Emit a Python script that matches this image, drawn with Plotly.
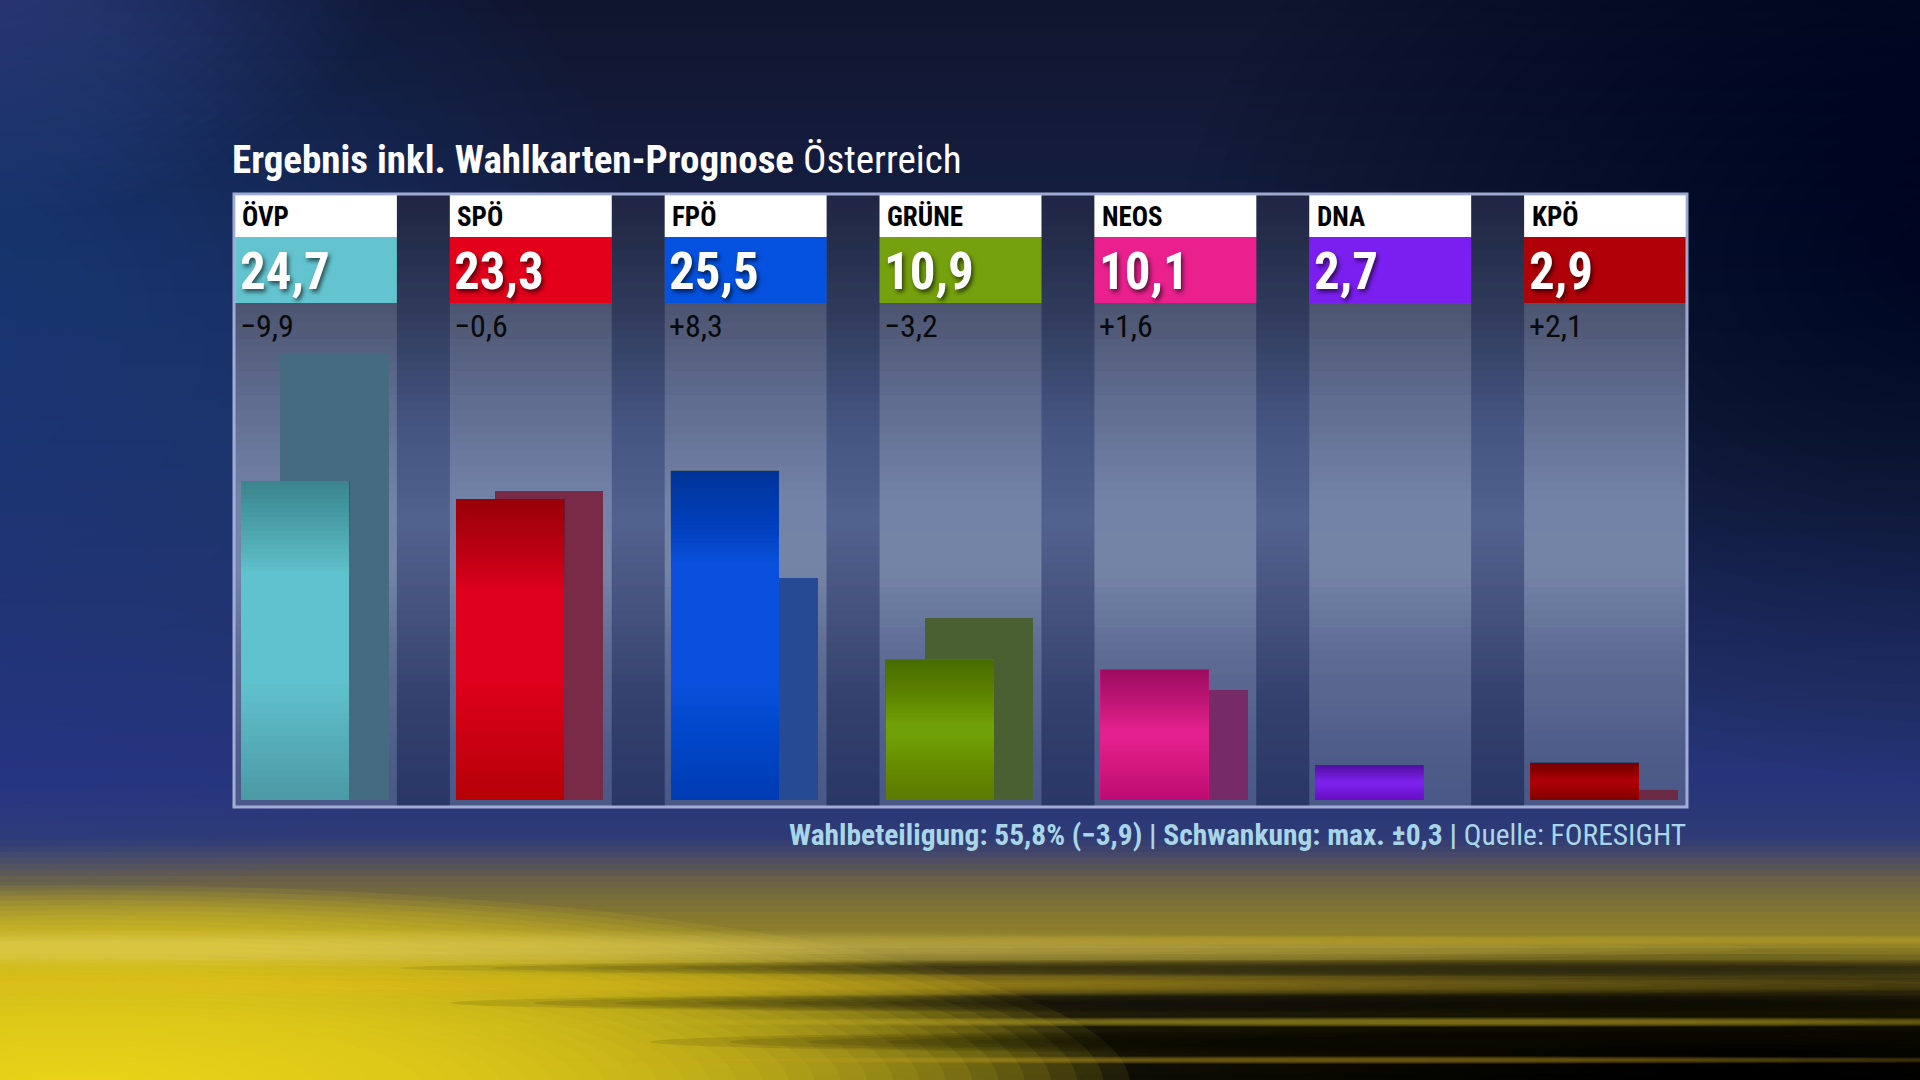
import plotly.graph_objects as go

# --- data -------------------------------------------------------------
parties = ["ÖVP", "SPÖ", "FPÖ", "GRÜNE", "NEOS", "DNA", "KPÖ"]
results = [24.7, 23.3, 25.5, 10.9, 10.1, 2.7, 2.9]
previous = [34.6, 23.9, 17.2, 14.1, 8.5, None, 0.8]
changes = [-9.9, -0.6, 8.3, -3.2, 1.6, None, 2.1]
party_colors = ["#60c2ce", "#de001c", "#0a50dc", "#70a008", "#e4208e", "#7c22ec", "#ac0008"]
header_colors = ["#63c4d0", "#e2001a", "#0552e0", "#74a10d", "#e9208d", "#7b1ff0", "#b00008"]
prev_colors = ["#456b80", "#782a47", "#274a94", "#4a6033", "#772b66", "#555555", "#6c2b45"]

title_bold = "Ergebnis inkl. Wahlkarten-Prognose"
title_light = "Österreich"
footer_bold = "Wahlbeteiligung: 55,8% (−3,9) | Schwankung: max. ±0,3 |"
footer_light = "Quelle: FORESIGHT"

FONT = "Roboto Condensed, DejaVu Sans Condensed, Liberation Sans Narrow, sans-serif"
W, H = 1920, 1080
HALF = 0.3767  # half column width in category units
BAR_W = 0.505
CUR_OFF, PREV_OFF = -0.349, -0.167


def fx(px):
    return px / W


def fy(py):
    return 1 - py / H


def hex_rgb(h):
    h = h.lstrip("#")
    return tuple(int(h[i:i + 2], 16) for i in (0, 2, 4))


def grad(stops, y):
    for (y0, c0), (y1, c1) in zip(stops, stops[1:]):
        if y0 <= y <= y1:
            t = (y - y0) / (y1 - y0)
            a, b = hex_rgb(c0), hex_rgb(c1)
            return "rgb(%d,%d,%d)" % tuple(round(a[k] + (b[k] - a[k]) * t) for k in range(3))
    return stops[-1][1]


def fmt(v):
    s = f"{abs(v):.1f}".replace(".", ",")
    return ("+" if v > 0 else "−") + s


shapes = []

# background: vertical gradient
bg_stops = [(0, "#10152e"), (200, "#151d40"), (500, "#1d2858"), (780, "#26357a"),
            (838, "#2e3b76"), (855, "#46486a"), (880, "#6a6048"), (915, "#857830"),
            (945, "#938428"), (975, "#5a5018"), (1010, "#2e2a10"), (1080, "#161610")]
for y in range(0, H, 6):
    shapes.append(dict(type="rect", xref="paper", yref="paper", x0=0, x1=1,
                       y0=fy(y + 7), y1=fy(y), fillcolor=grad(bg_stops, y + 3),
                       line_width=0, layer="below"))


def glow(cx, cy, rx, ry, rgb, alpha, n=28, inner=0.0):
    for k in range(n):
        r = 1 - (1 - inner) * k / n
        shapes.append(dict(type="circle", xref="paper", yref="paper",
                           x0=fx(cx - rx * r), x1=fx(cx + rx * r),
                           y0=fy(cy + ry * r), y1=fy(cy - ry * r),
                           fillcolor=f"rgba({rgb},{alpha})", line_width=0, layer="below"))


glow(-120, 330, 760, 620, "75,98,190", 0.018)
glow(-40, -40, 420, 260, "90,110,200", 0.02)
glow(1980, 260, 800, 520, "4,6,18", 0.02)
glow(1750, 1060, 1000, 110, "8,8,4", 0.035)
glow(80, 1085, 1050, 200, "248,222,40", 0.085, n=40)
glow(250, 948, 1500, 18, "238,220,110", 0.05, n=10, inner=0.3)
glow(500, 985, 1600, 12, "235,205,45", 0.05, n=10, inner=0.3)
# dark and light streaks (soft elongated ellipses)
glow(1450, 968, 1050, 8, "25,22,8", 0.09, n=8, inner=0.3)
glow(1400, 1003, 950, 10, "14,13,6", 0.1, n=8, inner=0.3)
glow(1450, 1022, 900, 5, "215,185,40", 0.09, n=8, inner=0.3)
glow(1550, 1042, 900, 12, "10,10,4", 0.1, n=8, inner=0.3)
glow(1350, 1060, 800, 4, "200,170,35", 0.08, n=8, inner=0.3)
glow(1600, 940, 900, 5, "200,175,45", 0.07, n=8, inner=0.3)

# panel background (gaps)
PT, PB, PL, PR = 195, 806, 235, 1686
gap_stops = [(195, "#1f2542"), (300, "#2e3858"), (420, "#445480"), (520, "#52628e"),
             (600, "#46547f"), (700, "#34416e"), (806, "#293767")]
col_stops = [(195, "#3e4660"), (300, "#4b536e"), (400, "#606c90"), (500, "#7283a7"),
             (570, "#7484a7"), (650, "#5f6d94"), (750, "#4f5d8a"), (806, "#4a5888")]
for y in range(PT, PB, 8):
    y2 = min(y + 9, PB)
    shapes.append(dict(type="rect", xref="paper", yref="paper", x0=fx(PL), x1=fx(PR),
                       y0=fy(y2), y1=fy(y), fillcolor=grad(gap_stops, y + 4),
                       line_width=0, layer="below"))
    sub = " ".join(
        f"M {i - HALF},{fy(y2)} L {i + HALF},{fy(y2)} L {i + HALF},{fy(y)} L {i - HALF},{fy(y)} Z"
        for i in range(len(parties)))
    shapes.append(dict(type="path", xref="x", yref="paper", path=sub,
                       fillcolor=grad(col_stops, y + 4), line_width=0, layer="below"))

# header cells
for i, c in enumerate(header_colors):
    shapes.append(dict(type="rect", xref="x", yref="paper", x0=i - HALF, x1=i + HALF,
                       y0=fy(237), y1=fy(PT), fillcolor="white", line_width=0, layer="below"))
    shapes.append(dict(type="rect", xref="x", yref="paper", x0=i - HALF, x1=i + HALF,
                       y0=fy(303), y1=fy(237), fillcolor=c, line_width=0, layer="below"))

# soft shading on the current bars (darker top and bottom), stacked translucent layers
for i, v in enumerate(results):
    top_depth = min(7.0, 0.45 * v)
    bot_depth = min(9.0, 0.45 * v)
    for k in range(1, 21):
        shapes.append(dict(type="rect", xref="x", yref="y",
                           x0=i + CUR_OFF, x1=i + CUR_OFF + BAR_W,
                           y0=v - top_depth * k / 20, y1=v,
                           fillcolor="rgba(0,0,0,0.014)", line_width=0, layer="above"))
        shapes.append(dict(type="rect", xref="x", yref="y",
                           x0=i + CUR_OFF, x1=i + CUR_OFF + BAR_W,
                           y0=0, y1=bot_depth * k / 20,
                           fillcolor="rgba(0,0,0,0.008)", line_width=0, layer="above"))

# panel border
shapes.append(dict(type="rect", xref="paper", yref="paper", x0=fx(PL - 1), x1=fx(PR + 1),
                   y0=fy(PB + 1), y1=fy(PT - 1), line=dict(color="rgba(175,185,225,0.9)", width=3),
                   layer="above"))

fig = go.Figure()
idx = list(range(len(parties)))
fig.add_trace(go.Bar(x=idx, y=previous, width=BAR_W, offset=PREV_OFF,
                     marker=dict(color=prev_colors, line_width=0), hoverinfo="skip"))
fig.add_trace(go.Bar(x=idx, y=results, width=BAR_W, offset=CUR_OFF,
                     marker=dict(color=party_colors, line_width=0), hoverinfo="skip"))

annotations = []
for i, p in enumerate(parties):
    annotations.append(dict(x=i - HALF + 0.025, y=fy(217), xref="x", yref="paper", text=p,
                            showarrow=False, xanchor="left", yanchor="middle",
                            font=dict(family=FONT, size=27, color="black", weight="bold")))
    annotations.append(dict(x=i - HALF + 0.012, y=fy(271), xref="x", yref="paper",
                            text=f"{results[i]:.1f}".replace(".", ","),
                            showarrow=False, xanchor="left", yanchor="middle",
                            font=dict(family=FONT, size=51, color="white", weight="bold",
                                      shadow="2px 3px 4px rgba(0,0,0,0.6)")))
    if changes[i] is not None:
        annotations.append(dict(x=i - HALF + 0.012, y=fy(326), xref="x", yref="paper",
                                text=fmt(changes[i]), showarrow=False, xanchor="left",
                                yanchor="middle",
                                font=dict(family=FONT, size=32, color="#0a0a0a")))

annotations.append(dict(x=fx(230), y=fy(160), xref="paper", yref="paper",
                        text=f"<b>{title_bold}</b> {title_light}", showarrow=False,
                        xanchor="left", yanchor="middle",
                        font=dict(family=FONT, size=39, color="white")))
annotations.append(dict(x=fx(PR + 2), y=fy(835), xref="paper", yref="paper",
                        text=f"<b>{footer_bold}</b> {footer_light}", showarrow=False,
                        xanchor="right", yanchor="middle",
                        font=dict(family=FONT, size=29.5, color="#a8d6e6")))

fig.update_layout(
    width=W, height=H,
    margin=dict(l=0, r=0, t=0, b=0),
    paper_bgcolor="#151d40", plot_bgcolor="rgba(0,0,0,0)",
    barmode="overlay", bargap=0, showlegend=False,
    shapes=shapes, annotations=annotations,
    xaxis=dict(domain=[fx(PL), fx(PR)], range=[-HALF, 6 + HALF], visible=False, fixedrange=True),
    yaxis=dict(domain=[fy(PB), fy(PT)], range=[-0.464, 46.83], visible=False, fixedrange=True),
)

fig.write_html("out.html", config={"displayModeBar": False},
               post_script="document.body.style.margin='0';"
                           "document.body.style.background='#10152e';")
